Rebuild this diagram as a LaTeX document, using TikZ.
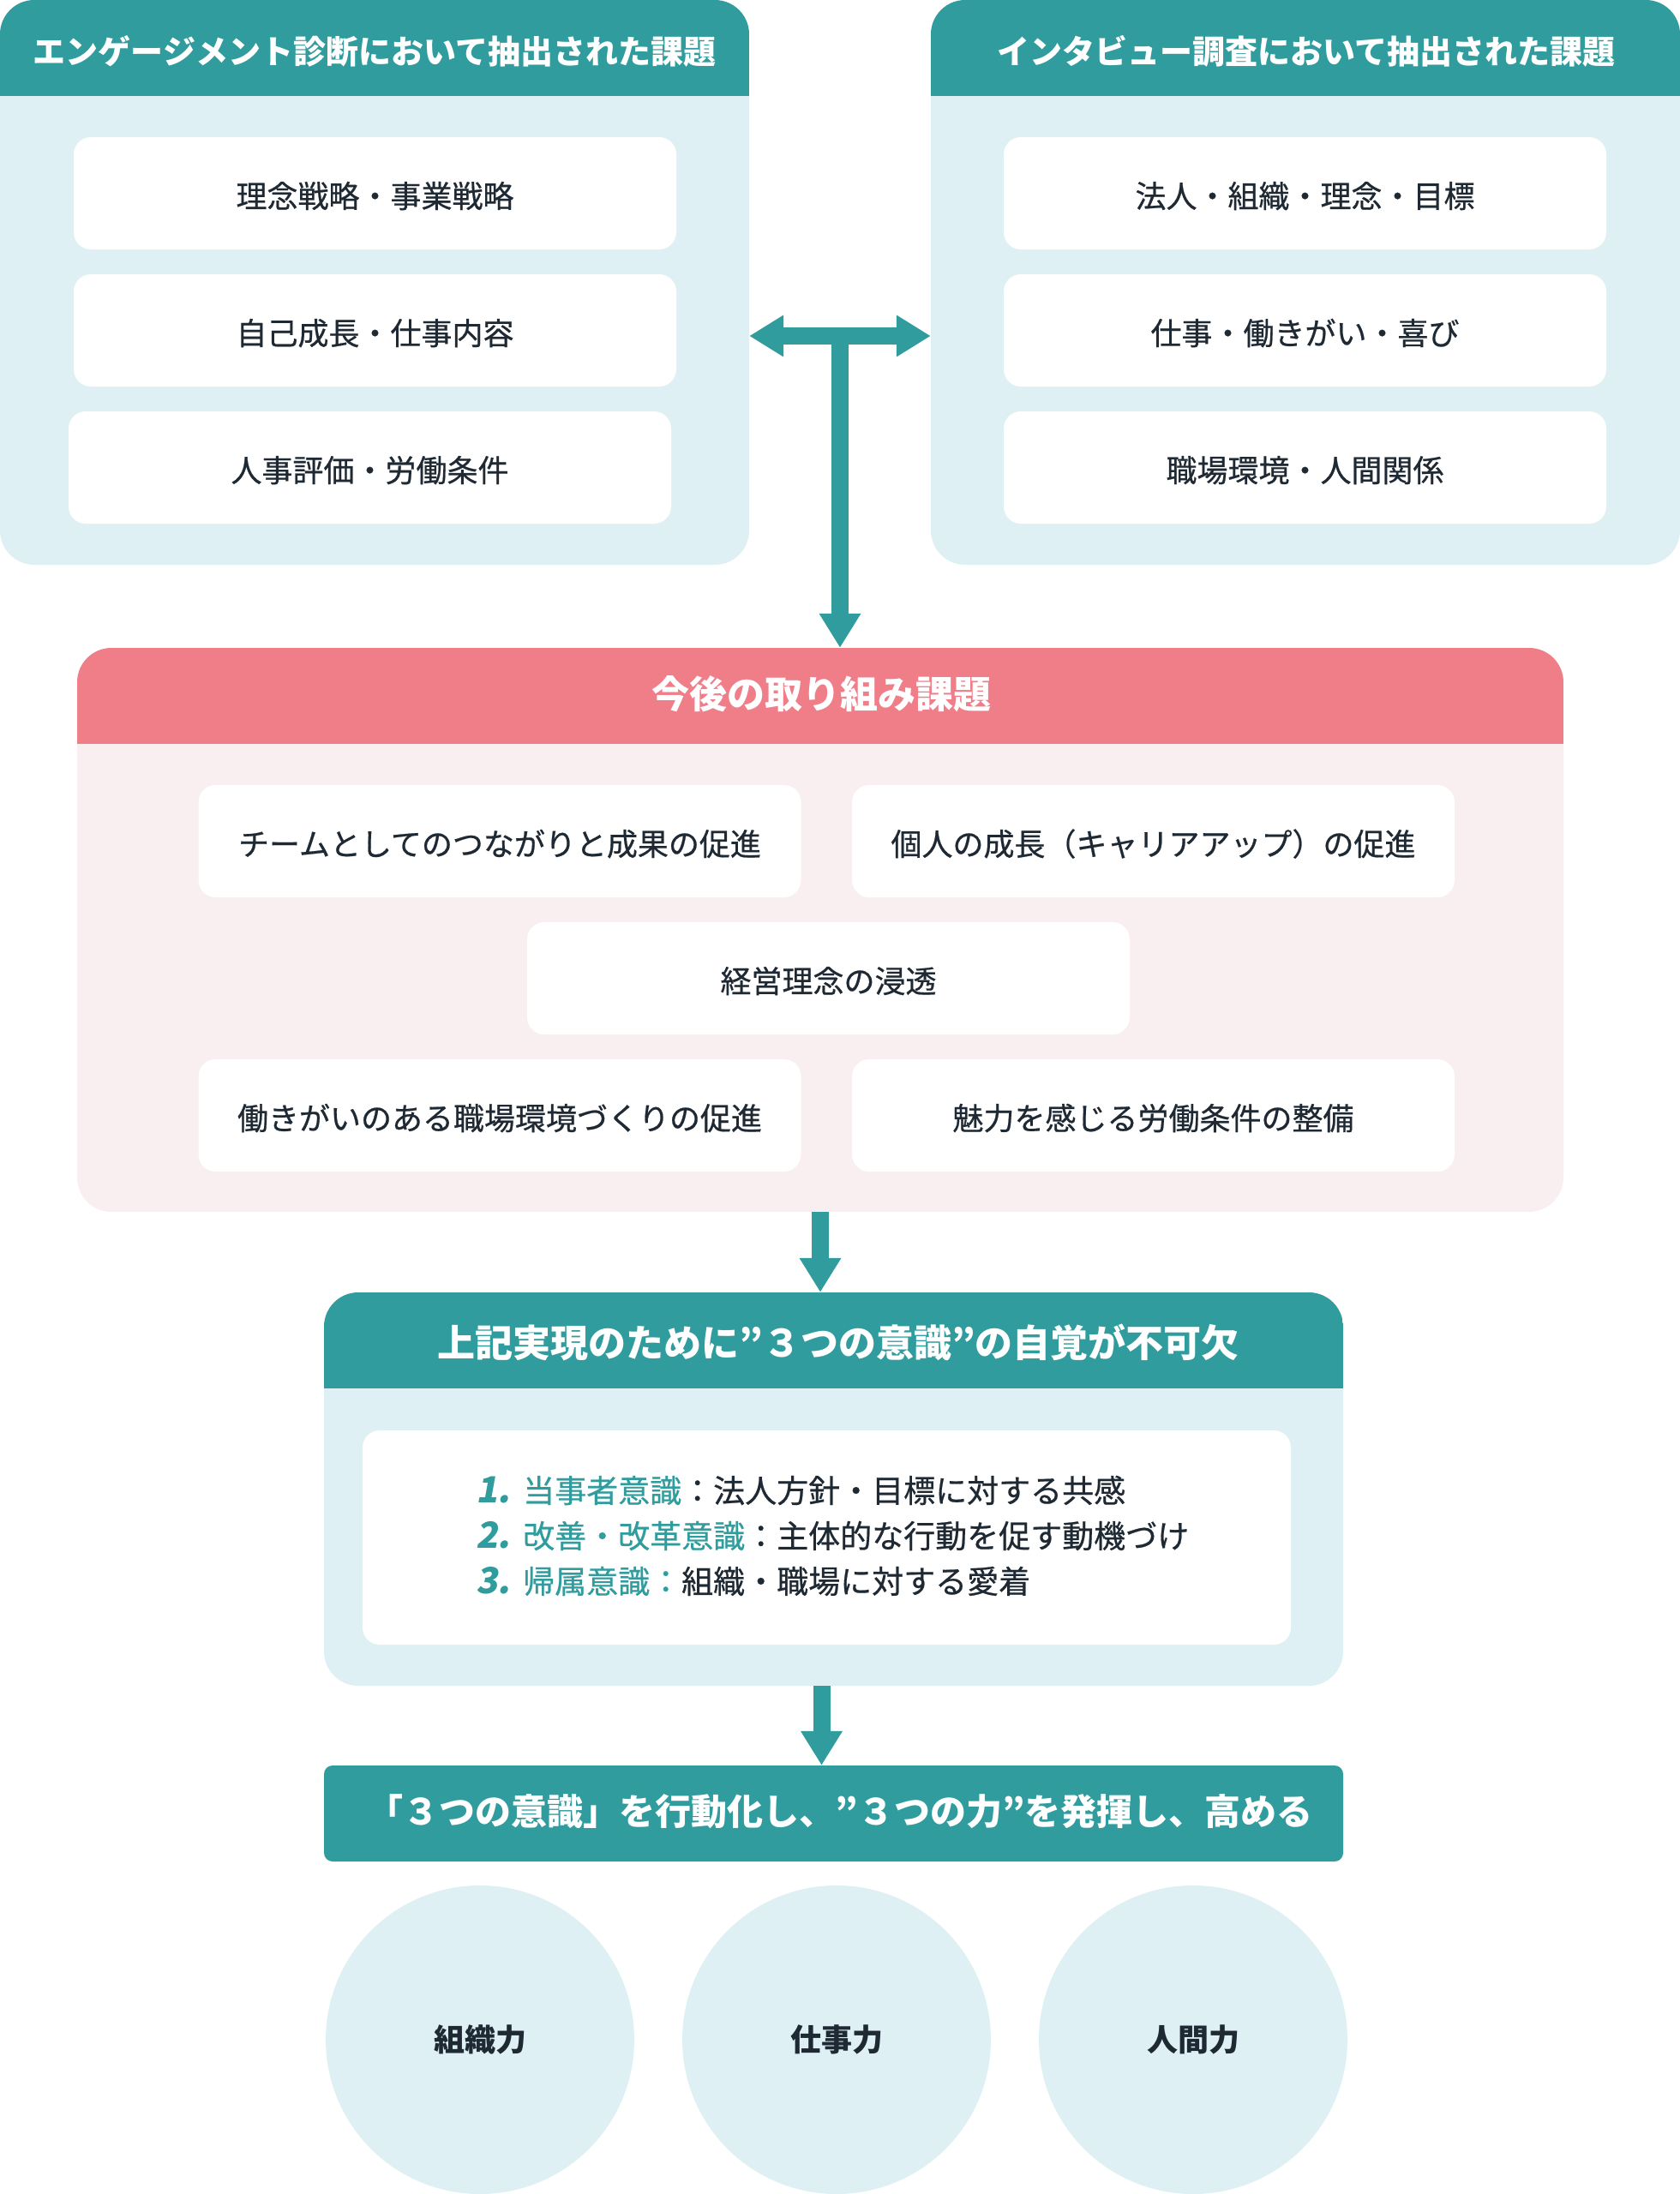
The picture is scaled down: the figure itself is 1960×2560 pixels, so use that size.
\documentclass[tikz,border=0pt]{standalone}
\usepackage{fontspec}
\setmainfont{Noto Sans CJK JP}
\newfontfamily\medfont[FakeBold=0.6]{Noto Sans CJK JP}
\newfontfamily\numfont[FakeSlant=0.18]{Noto Sans CJK JP}
\usetikzlibrary{arrows.meta}
\definecolor{tealc}{HTML}{309C9E}
\definecolor{lblue}{HTML}{DEF0F3}
\definecolor{pinkc}{HTML}{F07E89}
\definecolor{lpink}{HTML}{F9EEF0}
\definecolor{darktext}{HTML}{1E2933}
\tikzset{
  panel/.style={fill=#1, rounded corners=40pt, inner sep=0pt},
  headfill/.style={path picture={\fill[#1, sharp corners] (path picture bounding box.north west) rectangle ([yshift=-112pt]path picture bounding box.north east);}},
  card/.style={fill=white, rounded corners=20pt, minimum width=703pt, minimum height=131pt, inner sep=0pt, text height=38pt, text depth=4.5pt, font=\medfont\fontsize{36}{40}\selectfont, text=darktext},
  headtext/.style={text=white, inner sep=0pt, font=\fontsize{#1}{#1}\selectfont\bfseries},
  listtext/.style={anchor=west, inner sep=0pt, text=darktext, font=\medfont\fontsize{37}{40}\selectfont},
  ball/.style={circle, fill=lblue, minimum size=360pt, inner sep=0pt, text=darktext, font=\fontsize{36}{40}\selectfont\bfseries},
  conn/.style={draw=tealc, line width=20pt, -{Triangle[length=40pt,width=46pt]}},
  biconn/.style={draw=tealc, line width=20pt, {Triangle[length=40pt,width=46pt]}-{Triangle[length=40pt,width=46pt]}},
}
\newcommand{\numlbl}[1]{\makebox[55pt][l]{\numfont\bfseries\fontsize{42}{42}\selectfont\color{tealc}#1}}
\begin{document}
\begin{tikzpicture}[x=1pt,y=-1pt]
\useasboundingbox (0,0) rectangle (1960,2560);

% top panels
\node[panel=lblue, headfill=tealc, minimum width=874pt, minimum height=659pt] (L) at (437,329.5) {};
\node[headtext=38] (Lh) at (437,60) {エンゲージメント診断において抽出された課題};
\node[card] (L1) at (437.5,225.5) {理念戦略・事業戦略};
\node[card] (L2) at (437.5,385.5) {自己成長・仕事内容};
\node[card] (L3) at (431.5,545.5) {人事評価・労働条件};

\node[panel=lblue, headfill=tealc, minimum width=874pt, minimum height=659pt] (R) at (1523,329.5) {};
\node[headtext=38] (Rh) at (1524,60) {インタビュー調査において抽出された課題};
\node[card] (R1) at (1522.5,225.5) {法人・組織・理念・目標};
\node[card] (R2) at (1522.5,385.5) {仕事・働きがい・喜び};
\node[card] (R3) at (1522.5,545.5) {職場環境・人間関係};

% pink panel
\node[panel=lpink, headfill=pinkc, minimum width=1734pt, minimum height=658pt] (P) at (957,1085) {};
\node[headtext=44] (Ph) at (958,810) {今後の取り組み課題};
\node[card] (P1) at (583,981.5) {チームとしてのつながりと成果の促進};
\node[card] (P2) at (1345.5,981.5) {個人の成長（キャリアアップ）の促進};
\node[card] (P3) at (966.5,1141.5) {経営理念の浸透};
\node[card] (P4) at (583,1301.5) {働きがいのある職場環境づくりの促進};
\node[card] (P5) at (1345.5,1301.5) {魅力を感じる労働条件の整備};

% T connector
\coordinate (J) at (980,392);
\draw[biconn] (L.east |- J) -- (R.west |- J);
\draw[conn] (J) -- (J |- P.north);

% box 2
\node[panel=lblue, headfill=tealc, minimum width=1189pt, minimum height=459pt] (B) at (972.5,1737.5) {};
\node[headtext=44] (Bh) at (978,1566) {上記実現のために”３つの意識”の自覚が不可欠};
\node[card, minimum width=1083pt, minimum height=250pt] (B1) at (964.5,1794) {};
\node[listtext] (i1) at (555,1739) {\numlbl{1.}{\color{tealc}当事者意識}：法人方針・目標に対する共感};
\node[listtext] (i2) at (555,1792) {\numlbl{2.}{\color{tealc}改善・改革意識}：主体的な行動を促す動機づけ};
\node[listtext] (i3) at (555,1845) {\numlbl{3.}{\color{tealc}帰属意識：}組織・職場に対する愛着};

\draw[conn] (P.south) -- (P.south |- B.north);

% box 3
\node[fill=tealc, rounded corners=10pt, minimum width=1189pt, minimum height=112pt, inner sep=0pt] (C) at (972.5,2116) {};
\node[headtext=42] (Ct) at (980,2114) {「３つの意識」を行動化し、”３つの力”を発揮し、高める};
\draw[conn] ([xshift=-14pt]B.south) -- ([xshift=-14pt]B.south |- C.north);

% circles
\node[ball] (c1) at (560,2380) {組織力};
\node[ball] (c2) at (976,2380) {仕事力};
\node[ball] (c3) at (1392,2380) {人間力};
\end{tikzpicture}
\end{document}
